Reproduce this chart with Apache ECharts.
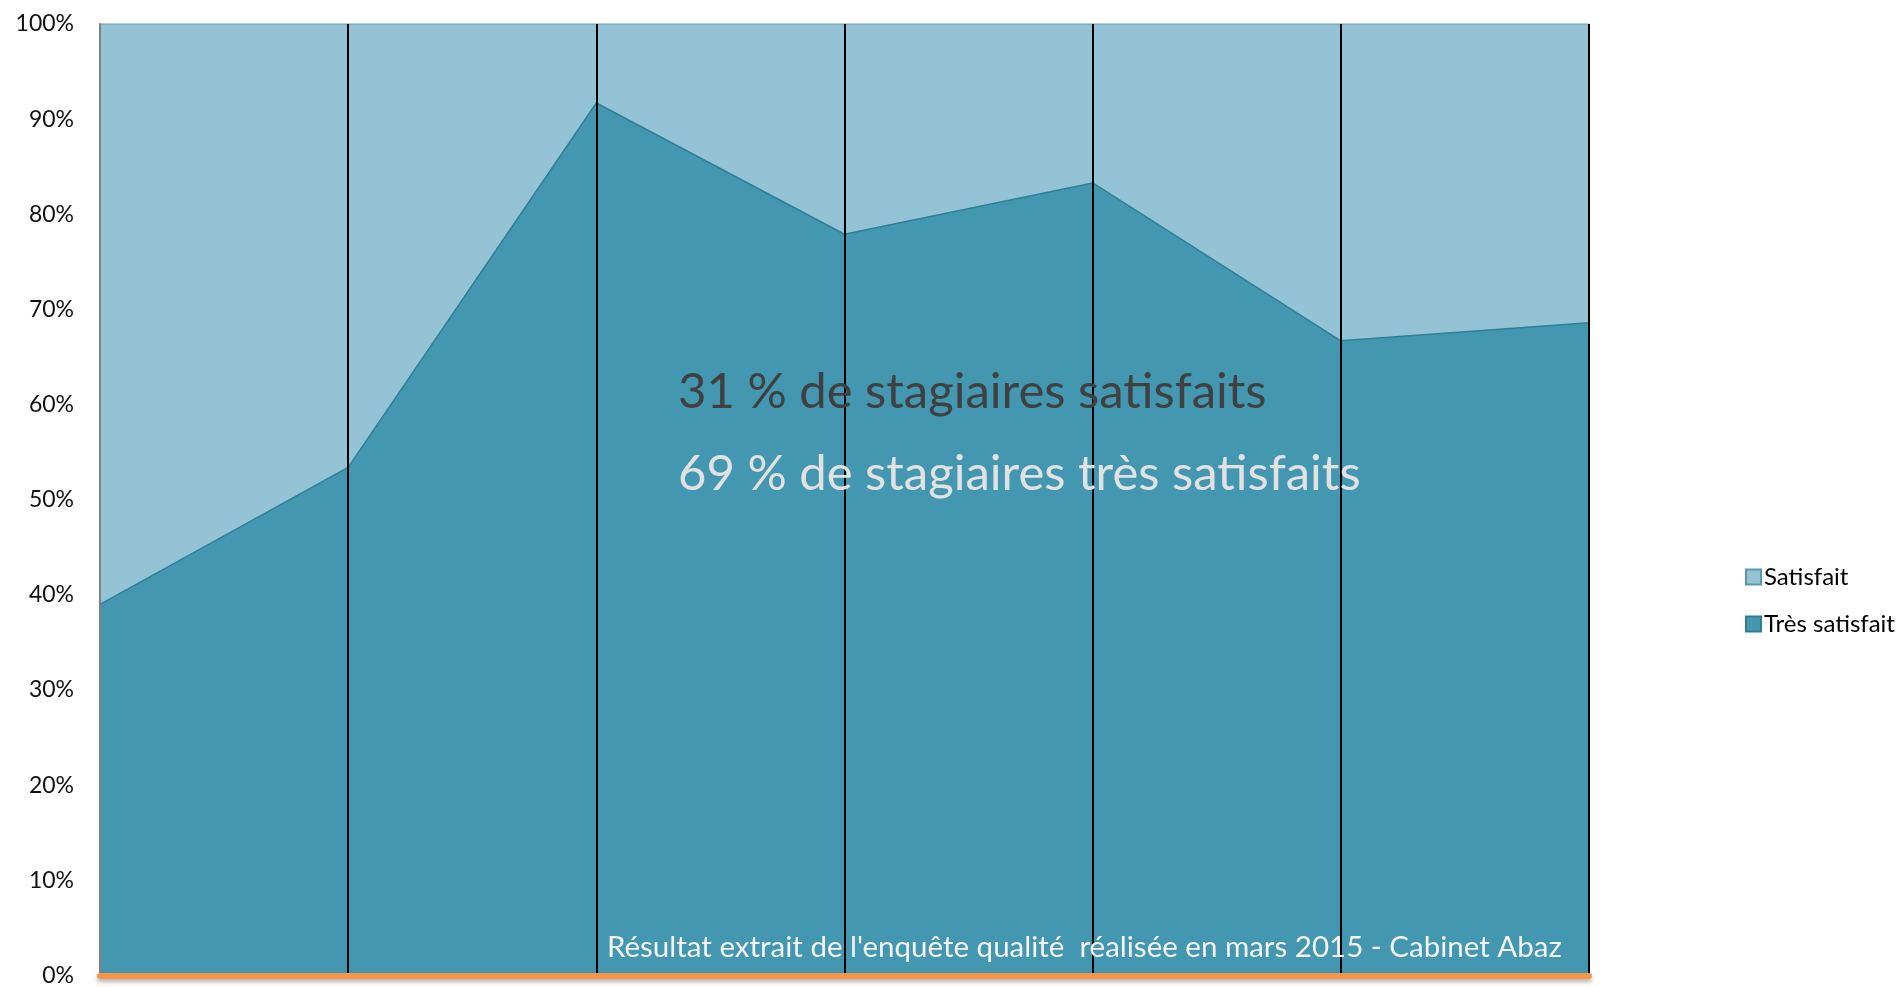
<!DOCTYPE html>
<html>
<head>
<meta charset="utf-8">
<script src="https://cdn.jsdelivr.net/npm/echarts@6/dist/echarts.min.js"></script>
<style>
    html, body { margin: 0; padding: 0; background: #fff; }
    #chart { width: 1904px; height: 987px; }
</style>
</head>
<body>
<div id="chart"></div>
<script>
// data
var categories = ['C1', 'C2', 'C3', 'C4', 'C5', 'C6', 'C7'];
var tresSatisfait = [39.0, 53.4, 91.7, 77.9, 83.3, 66.7, 68.6];
var satisfait = [61.0, 46.6, 8.3, 22.1, 16.7, 33.3, 31.4];
var dropLines = ['C2', 'C3', 'C4', 'C5', 'C6', 'C7'];

var font = 'Lato';

function drawArea() {
    let myChart = echarts.init(document.getElementById('chart'));

    let option = {
        animation: false,
        grid: {
            left: 100,
            right: 315,
            top: 24,
            bottom: 8
        },
        legend: {
            orient: 'vertical',
            left: 1740,
            top: 560,
            icon: 'rect',
            itemWidth: 15,
            itemHeight: 15,
            itemGap: 23,
            data: ['Satisfait', 'Très satisfait'],
            textStyle: {
                fontFamily: font,
                fontSize: 24,
                color: '#000',
                padding: [0, 0, 0, -2]
            }
        },
        xAxis: {
            type: 'category',
            boundaryGap: false,
            data: categories,
            z: 10,
            axisLine: {
                show: true,
                lineStyle: {
                    color: '#F79646',
                    width: 6,
                    shadowBlur: 4,
                    shadowColor: 'rgba(0,0,0,0.3)',
                    shadowOffsetY: 3
                }
            },
            axisTick: { show: false },
            axisLabel: { show: false },
            splitLine: { show: false }
        },
        yAxis: {
            type: 'value',
            min: 0,
            max: 100,
            interval: 10,
            z: 10,
            axisLine: {
                show: true,
                lineStyle: { color: '#808080', width: 2 }
            },
            axisTick: { show: false },
            splitLine: { show: false },
            axisLabel: {
                formatter: '{value}%',
                fontFamily: font,
                fontSize: 23,
                color: '#111',
                margin: 26
            }
        },
        series: [
            {
                name: 'Très satisfait',
                type: 'line',
                stack: 'total',
                data: tresSatisfait,
                symbol: 'none',
                itemStyle: { color: '#4397B0', borderColor: '#2F7D93', borderWidth: 1 },
                lineStyle: { color: '#2F7F96', width: 1.5 },
                areaStyle: { color: '#4397B0', opacity: 1 },
                z: 2,
                markLine: {
                    silent: true,
                    symbol: 'none',
                    label: { show: false },
                    lineStyle: { color: '#000', width: 2, type: 'solid' },
                    data: dropLines.map(function (c) { return { xAxis: c }; }),
                    z: 5
                }
            },
            {
                name: 'Satisfait',
                type: 'line',
                stack: 'total',
                data: satisfait,
                symbol: 'none',
                itemStyle: { color: '#93C3D5', borderColor: '#5C98AC', borderWidth: 1 },
                lineStyle: { color: '#7fa9b8', width: 1.5 },
                areaStyle: { color: '#93C3D5', opacity: 1 },
                z: 1
            }
        ],
        graphic: [
            {
                type: 'text',
                z: 100,
                style: {
                    x: 678, y: 392,
                    text: '31 % de stagiaires satisfaits',
                    fontFamily: font,
                    fontSize: 49,
                    fill: '#404040',
                    verticalAlign: 'middle'
                }
            },
            {
                type: 'text',
                z: 100,
                style: {
                    x: 678, y: 474,
                    text: '69 % de stagiaires très satisfaits',
                    fontFamily: font,
                    fontSize: 49,
                    fill: '#e2e2e2',
                    verticalAlign: 'middle'
                }
            },
            {
                type: 'text',
                z: 100,
                style: {
                    x: 607, y: 947,
                    text: 'Résultat extrait de l\'enquête qualité  réalisée en mars 2015 - Cabinet Abaz',
                    fontFamily: font,
                    fontSize: 29.5,
                    fill: '#f4f4f4',
                    verticalAlign: 'middle'
                }
            }
        ]
    };

    myChart.setOption(option);
}

drawArea();
</script>
</body>
</html>
